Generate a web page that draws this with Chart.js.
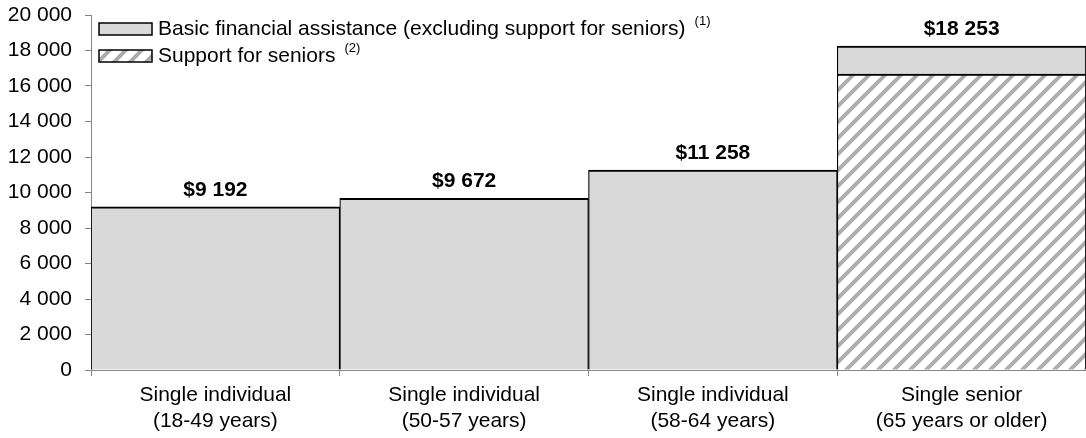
<!DOCTYPE html>
<html>
<head>
<meta charset="utf-8">
<script src="https://cdn.jsdelivr.net/npm/chart.js@4/dist/chart.umd.min.js"></script>
<style>
  html, body { margin: 0; padding: 0; background: #fff; }
  canvas { display: block; }
</style>
</head>
<body>
<canvas id="chart" width="1086" height="438"></canvas>
<script>
const categories = [
  ["Single individual", "(18-49 years)"],
  ["Single individual", "(50-57 years)"],
  ["Single individual", "(58-64 years)"],
  ["Single senior", "(65 years or older)"]
];
const basicAssistance = [9192, 9672, 11258, 1583];
const seniorSupport = [null, null, null, 16670];
const seriesNames = [
  "Basic financial assistance (excluding support for seniors)",
  "Support for seniors"
];
const seriesNotes = ["(1)", "(2)"];
const yTicks = [0, 2000, 4000, 6000, 8000, 10000, 12000, 14000, 16000, 18000, 20000];

const FONT = "'Liberation Sans', Arial, sans-serif";
const AXIS = "#868686";
const GRAY = "#d9d9d9";

function spaced(n) {
  return String(n).replace(/\B(?=(\d{3})+(?!\d))/g, " ");
}

// diagonal hatch for the seniors segment
function makeHatch() {
  const c = document.createElement("canvas");
  c.width = 16;
  c.height = 16;
  const g = c.getContext("2d");
  g.fillStyle = "#fff";
  g.fillRect(0, 0, 16, 16);
  g.strokeStyle = "#acacac";
  g.lineWidth = 4;
  [[-8, 8, 8, -8], [0, 16, 16, 0], [8, 24, 24, 8]].forEach(l => {
    g.beginPath();
    g.moveTo(l[0], l[1]);
    g.lineTo(l[2], l[3]);
    g.stroke();
  });
  return g.createPattern(c, "repeat");
}

const ctx = document.getElementById("chart").getContext("2d");
const hatch = makeHatch();

const totals = categories.map((_, i) => (basicAssistance[i] || 0) + (seniorSupport[i] || 0));

const valueLabels = {
  id: "valueLabels",
  afterDatasetsDraw(chart) {
    const c = chart.ctx;
    const y = chart.scales.y;
    const x = chart.scales.x;
    c.save();
    c.font = "bold 21px " + FONT;
    c.fillStyle = "#000";
    c.textAlign = "center";
    c.textBaseline = "alphabetic";
    totals.forEach((t, i) => {
      c.fillText("$" + spaced(t), x.getPixelForValue(i), y.getPixelForValue(t) - 11);
    });
    c.restore();
  }
};

const boxLegend = {
  id: "boxLegend",
  afterDraw(chart) {
    const c = chart.ctx;
    // legend rows: basic first, then seniors
    const rows = [
      { fill: GRAY, text: seriesNames[0], note: seriesNotes[0], y: 29 },
      { fill: hatch, text: seriesNames[1], note: seriesNotes[1], y: 56 }
    ];
    c.save();
    rows.forEach(r => {
      c.fillStyle = r.fill;
      c.fillRect(99, r.y - 6, 53, 12);
      c.strokeStyle = "#000";
      c.lineWidth = 1.5;
      c.strokeRect(99, r.y - 6, 53, 12);
      c.fillStyle = "#000";
      c.font = "21px " + FONT;
      c.textAlign = "left";
      c.textBaseline = "middle";
      c.fillText(r.text, 158, r.y);
      const w = c.measureText(r.text).width;
      c.font = "13px " + FONT;
      c.fillText(r.note, 158 + w + 9, r.y - 8);
    });
    c.restore();
  }
};

new Chart(ctx, {
  type: "bar",
  data: {
    labels: categories,
    datasets: [
      {
        label: seriesNames[1],
        data: seniorSupport,
        backgroundColor: hatch,
        borderColor: "#000",
        borderWidth: { top: 2, left: 1.2, right: 1.2, bottom: 0 },
        borderSkipped: false,
        barPercentage: 1,
        categoryPercentage: 1
      },
      {
        label: seriesNames[0],
        data: basicAssistance,
        backgroundColor: GRAY,
        borderColor: "#000",
        borderWidth: { top: 2, left: 1.2, right: 1.2, bottom: 0 },
        borderSkipped: false,
        barPercentage: 1,
        categoryPercentage: 1
      }
    ]
  },
  options: {
    responsive: false,
    animation: false,
    layout: { padding: { top: 15, right: 0, left: 0, bottom: 0 } },
    plugins: {
      legend: { display: false },
      tooltip: { enabled: false }
    },
    scales: {
      x: {
        stacked: true,
        z: 1,
        afterFit: s => { s.height = 68; },
        grid: { drawOnChartArea: false, color: AXIS, tickLength: 6, offset: true },
        border: { color: AXIS, width: 1 },
        ticks: {
          color: "#000",
          padding: 7,
          font: { family: FONT, size: 21, lineHeight: 1.2 }
        }
      },
      y: {
        stacked: true,
        z: 1,
        min: 0,
        max: 20000,
        afterFit: s => {
          s.width = 91;
          s.paddingTop = 0;
          s.paddingBottom = 0;
        },
        afterBuildTicks: s => { s.ticks = yTicks.map(v => ({ value: v })); },
        grid: { drawOnChartArea: false, color: AXIS, tickLength: 6 },
        border: { color: AXIS, width: 1 },
        ticks: {
          color: "#000",
          padding: 13,
          font: { family: FONT, size: 21 },
          callback: v => spaced(v)
        }
      }
    }
  },
  plugins: [valueLabels, boxLegend]
});
</script>
</body>
</html>
